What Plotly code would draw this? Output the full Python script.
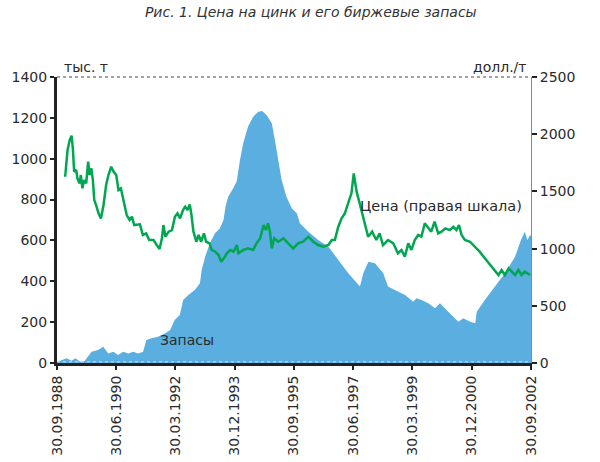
import plotly.graph_objects as go

# ---- data ----
stock_dates = [
    "1988-09-30", "1989-01-11", "1989-03-06", "1989-04-17", "1989-06-06", "1989-07-25",
    "1989-10-08", "1989-12-17", "1990-02-11", "1990-04-06", "1990-05-31", "1990-07-20",
    "1990-09-14", "1990-11-08", "1990-12-31", "1991-02-22", "1991-04-17", "1991-05-22",
    "1991-07-17", "1991-09-25", "1991-12-08", "1992-02-03", "1992-03-22", "1992-05-17",
    "1992-06-22", "1992-08-17", "1992-10-25", "1992-12-20", "1993-01-08", "1993-02-14",
    "1993-04-06", "1993-05-31", "1993-07-22", "1993-08-31", "1993-09-22", "1993-10-20",
    "1993-12-14", "1994-01-20", "1994-02-25", "1994-03-31", "1994-05-22", "1994-07-17",
    "1994-09-11", "1994-10-22", "1994-12-08", "1995-02-03", "1995-03-08", "1995-04-11",
    "1995-05-20", "1995-07-11", "1995-09-06", "1995-10-31", "1995-12-03", "1996-03-03",
    "1996-06-17", "1996-10-06", "1997-01-20", "1997-05-08", "1997-09-11", "1997-10-17",
    "1997-12-11", "1998-02-20", "1998-05-20", "1998-07-11", "1998-09-22", "1999-01-11",
    "1999-04-08", "1999-05-14", "1999-07-08", "1999-09-17", "1999-11-30", "2000-01-22",
    "2000-04-20", "2000-08-08", "2000-09-30", "2000-12-11", "2001-02-06", "2001-02-22",
    "2001-05-20", "2001-09-08", "2001-12-22", "2002-04-11", "2002-06-14", "2002-07-25",
    "2002-08-22", "2002-09-20", "2002-09-30",
]
stocks = [
    5, 23, 11, 23, 6, 10,
    55, 64, 80, 47, 55, 39,
    55, 47, 55, 47, 55, 113,
    121, 129, 145, 162, 210, 235,
    308, 333, 357, 390, 455, 520,
    586, 635, 659, 700, 765, 814,
    855, 888, 994, 1075, 1157, 1206,
    1230, 1234, 1214, 1173, 1092, 994,
    896, 814, 757, 733, 684, 643,
    602, 569, 504, 439, 374, 439,
    496, 488, 439, 374, 357, 333,
    300, 317, 308, 292, 268, 292,
    251, 202, 219, 202, 194, 251,
    308, 374, 439, 520, 602, 643,
    602, 627, 620,
]

price_dates = [
    "1988-12-27", "1989-01-22", "1989-02-14", "1989-03-06", "1989-03-20", "1989-04-03",
    "1989-04-25", "1989-05-08", "1989-06-01", "1989-06-14", "1989-07-01", "1989-07-20",
    "1989-08-11", "1989-09-01", "1989-09-17", "1989-10-06", "1989-10-22", "1989-11-06",
    "1989-11-25", "1989-12-22", "1990-01-17", "1990-02-14", "1990-03-14", "1990-04-08",
    "1990-05-08", "1990-06-03", "1990-07-01", "1990-07-25", "1990-08-20", "1990-09-17",
    "1990-10-22", "1990-11-22", "1990-12-17", "1991-01-11", "1991-02-11", "1991-03-14",
    "1991-04-14", "1991-05-20", "1991-06-22", "1991-08-08", "1991-09-11", "1991-10-11",
    "1991-11-06", "1991-11-22", "1991-12-14", "1992-01-17", "1992-02-22", "1992-03-25",
    "1992-04-22", "1992-05-20", "1992-06-20", "1992-07-14", "1992-08-08", "1992-09-01",
    "1992-09-17", "1992-10-11", "1992-11-11", "1992-12-06", "1993-01-01", "1993-02-01",
    "1993-02-25", "1993-04-03", "1993-04-25", "1993-06-03", "1993-07-08", "1993-08-06",
    "1993-09-03", "1993-10-08", "1993-11-11", "1993-12-17", "1994-01-22", "1994-02-08",
    "1994-04-03", "1994-05-22", "1994-07-17", "1994-08-22", "1994-10-01", "1994-11-06",
    "1994-12-01", "1994-12-25", "1995-01-14", "1995-02-03", "1995-03-01", "1995-04-14",
    "1995-06-08", "1995-08-01", "1995-09-22", "1995-11-14", "1996-01-08", "1996-03-03",
    "1996-04-25", "1996-06-17", "1996-08-11", "1996-10-06", "1996-11-11", "1996-12-14",
    "1997-01-20", "1997-02-25", "1997-04-01", "1997-05-06", "1997-06-11", "1997-07-06",
    "1997-08-06", "1997-09-08", "1997-11-03", "1997-12-08", "1998-01-20", "1998-03-06",
    "1998-04-11", "1998-05-17", "1998-07-11", "1998-09-06", "1998-10-25", "1998-12-03",
    "1999-01-08", "1999-02-14", "1999-03-20", "1999-04-25", "1999-06-01", "1999-07-06",
    "1999-08-11", "1999-09-17", "1999-10-20", "1999-11-25", "2000-01-03", "2000-02-08",
    "2000-03-20", "2000-05-08", "2000-06-14", "2000-07-17", "2000-08-14", "2000-09-11",
    "2000-10-17", "2000-12-11", "2001-02-06", "2001-03-25", "2001-05-20", "2001-07-14",
    "2001-09-08", "2001-10-14", "2001-11-17", "2001-12-22", "2002-02-01", "2002-03-06",
    "2002-04-11", "2002-05-17", "2002-06-20", "2002-07-25", "2002-09-20",
]
prices = [
    1628, 1862, 1949, 1987, 1877, 1672,
    1687, 1614, 1570, 1643, 1527, 1599,
    1570, 1760, 1643, 1701, 1599, 1424,
    1381, 1308, 1264, 1381, 1556, 1643,
    1716, 1672, 1643, 1512, 1527, 1410,
    1293, 1250, 1279, 1206, 1206, 1212,
    1119, 1133, 1075, 1075, 1031, 996,
    1090, 1206, 1104, 1148, 1162, 1279,
    1308, 1264, 1337, 1366, 1337, 1387,
    1308, 1148, 1060, 1119, 1060, 1133,
    1060, 1046, 988, 973, 944, 885,
    915, 959, 988, 973, 1031, 959,
    988, 1002, 988, 1046, 1090, 1206,
    1162, 1221, 1148, 1002, 1090, 1060,
    1090, 1046, 1002, 1046, 1060, 1104,
    1060, 1031, 1017, 1031, 1075, 1075,
    1191, 1264, 1308, 1395, 1483, 1658,
    1498, 1395, 1221, 1104, 1148, 1075,
    1133, 1031, 1075, 1046, 959, 988,
    929, 1046, 988, 1075, 1119, 1104,
    1221, 1177, 1148, 1235, 1133, 1148,
    1177, 1162, 1191, 1162, 1206, 1119,
    1075, 1060, 1017, 973, 915, 857,
    798, 769, 813, 769, 827, 798,
    769, 813, 769, 798, 769,
]

tick_dates = ["1988-09-30", "1990-06-30", "1992-03-30", "1993-12-30", "1995-09-30",
              "1997-06-30", "1999-03-30", "2000-12-30", "2002-09-30"]
tick_labels = ["30.09.1988", "30.06.1990", "30.03.1992", "30.12.1993", "30.09.1995",
               "30.06.1997", "30.03.1999", "30.12.2000", "30.09.2002"]

FONT = "DejaVu Sans"
TXT = "#2a2a2a"

fig = go.Figure()
fig.add_trace(go.Scatter(
    x=stock_dates, y=stocks, mode="lines", fill="tozeroy",
    line=dict(width=0, color="#5aaee0"), fillcolor="#5aaee0",
    yaxis="y", hoverinfo="skip", showlegend=False,
))
fig.add_trace(go.Scatter(
    x=price_dates, y=prices, mode="lines",
    line=dict(width=2.5, color="#00a650"),
    yaxis="y2", showlegend=False,
))

fig.update_layout(
    width=600, height=462,
    margin=dict(l=57, r=69, t=77, b=99, autoexpand=False),
    paper_bgcolor="white", plot_bgcolor="white",
    font=dict(family=FONT, size=14, color=TXT),
    title=dict(text="<i>Рис. 1. Цена на цинк и его биржевые запасы</i>",
               x=0.518, xanchor="center", y=0.985, yanchor="top",
               font=dict(family=FONT, size=14, color="#333333")),
    xaxis=dict(
        type="date", range=["1988-09-30", "2002-09-30"], automargin=False,
        tickvals=tick_dates, ticktext=tick_labels, tickangle=-90,
        showgrid=False, zeroline=False,
        showline=True, linecolor="#222222", linewidth=3,
        ticks="outside", ticklen=4, tickwidth=2, tickcolor="#222222",
        tickfont=dict(size=14, color=TXT),
    ),
    yaxis=dict(
        range=[0, 1400], dtick=200, showgrid=False, zeroline=False, automargin=False,
        showline=True, linecolor="#222222", linewidth=3,
        ticks="outside", ticklen=4, tickwidth=2, tickcolor="#222222",
        tickfont=dict(size=14, color=TXT),
    ),
    yaxis2=dict(
        range=[0, 2500], dtick=500, overlaying="y", side="right", automargin=False,
        showgrid=False, zeroline=False,
        showline=True, linecolor="#888888", linewidth=1,
        ticks="outside", ticklen=5, tickwidth=2, tickcolor="#222222",
        tickfont=dict(size=14, color=TXT),
    ),
    shapes=[
        dict(type="line", xref="paper", yref="paper", x0=0, x1=1, y0=1, y1=1,
             line=dict(color="#444444", width=1, dash="dot")),
        dict(type="line", xref="paper", yref="paper", x0=0, x1=1, y0=0.004, y1=0.004,
             line=dict(color="#dddddd", width=1, dash="dot")),
    ],
    annotations=[
        dict(text="тыс. т", xref="paper", yref="paper", x=0.01, y=1.0,
             xanchor="left", yanchor="bottom", showarrow=False,
             font=dict(size=14, color=TXT)),
        dict(text="долл./т", xref="paper", yref="paper", x=0.993, y=1.0,
             xanchor="right", yanchor="bottom", showarrow=False,
             font=dict(size=14, color=TXT)),
        dict(text="Запасы", x="1991-09-20", y=115, xref="x", yref="y",
             xanchor="left", yanchor="middle", showarrow=False,
             font=dict(size=14, color=TXT)),
        dict(text="Цена (правая шкала)", x="1997-08-20", y=1370, xref="x", yref="y2",
             xanchor="left", yanchor="middle", showarrow=False,
             font=dict(size=14.5, color=TXT)),
    ],
)

fig.write_html("out.html", config={"displayModeBar": False},
               post_script="document.body.style.margin='0px';document.body.style.padding='0px';")
